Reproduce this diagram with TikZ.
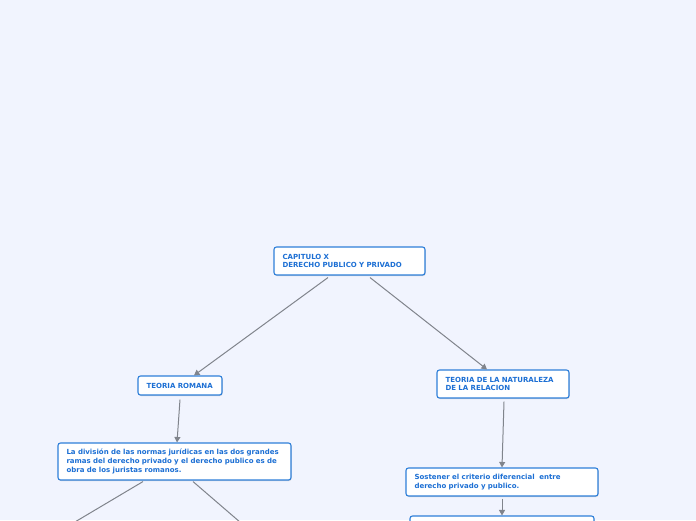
\documentclass[tikz,border=0pt]{standalone}
\usepackage{fontspec}
\setmainfont{DejaVu Sans}
\usetikzlibrary{arrows.meta,shadows}
\definecolor{bg}{HTML}{F1F4FE}
\definecolor{bdr}{HTML}{2E7FD9}
\definecolor{txt}{HTML}{1C6FD4}
\definecolor{edge}{HTML}{80848C}
\tikzset{
  box/.style={draw=bdr, line width=1.1pt, rounded corners=2.5pt, fill=white,
    font=\bfseries\fontsize{7pt}{8.8pt}\selectfont, text=txt, align=left,
    inner xsep=8.5pt, inner ysep=0pt,
    drop shadow={shadow xshift=0.6pt, shadow yshift=-1pt, opacity=0.25, fill=black!60}},
  conn/.style={draw=edge, line width=1pt, -{Triangle[length=5.5pt,width=6pt]}},
  connfree/.style={draw=edge, line width=1pt}
}
\begin{document}
\begin{tikzpicture}[x=1pt,y=-1pt]
\useasboundingbox (0,0) rectangle (696,520);
\fill[bg] (0,0) rectangle (696,520);
\clip (0,0) rectangle (696,520);
\node[box, minimum width=151pt, minimum height=28pt, text width=134pt] (cap) at (349.5,261) {CAPITULO X\\DERECHO PUBLICO Y PRIVADO};
\node[box, minimum width=84pt, minimum height=19pt, text width=67pt] (rom) at (180,385.5) {TEORIA ROMANA};
\node[box, minimum width=132pt, minimum height=28pt, text width=115pt] (nat) at (503,384) {TEORIA DE LA NATURALEZA\\DE LA RELACION};
\node[box, minimum width=233pt, minimum height=37pt, text width=216pt] (div) at (174.5,461.5) {La división de las normas jurídicas en las dos grandes\\ramas del derecho privado y el derecho publico es de\\obra de los juristas romanos.};
\node[box, minimum width=192pt, minimum height=28pt, text width=175pt] (sos) at (502,482) {Sostener el criterio diferencial\ \ entre\\derecho privado y publico.};
\node[box, minimum width=184pt, minimum height=28pt, text width=167pt] (bot) at (502,530) {};
\coordinate (offL) at (53,535);
\coordinate (offR) at (255,535);
\draw[conn] ([xshift=-21.5pt,yshift=-2pt]cap.south) -- ([xshift=14pt]rom.north);
\draw[conn] ([xshift=20.5pt,yshift=-2pt]cap.south) -- ([xshift=-16pt]nat.north);
\draw[conn] ([yshift=-4pt]rom.south) -- ([xshift=2.5pt]div.north);
\draw[conn] ([xshift=1pt,yshift=-3pt]nat.south) -- (sos.north);
\draw[conn] ([yshift=-2pt]sos.south) -- (bot.north);
\draw[connfree] ([xshift=-31.5pt,yshift=-1pt]div.south) -- (offL);
\draw[connfree] ([xshift=18.5pt,yshift=-1pt]div.south) -- (offR);
\end{tikzpicture}
\end{document}
